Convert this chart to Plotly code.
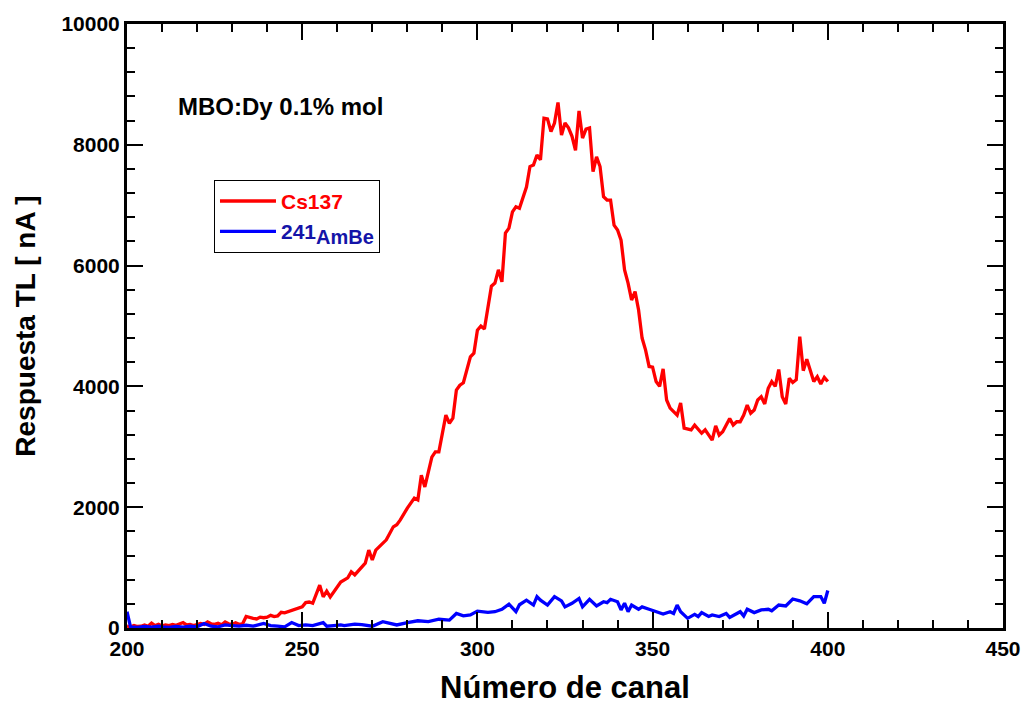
import plotly.graph_objects as go

# Cs137 curve (channel, TL response nA)
cs_ch = [200, 201, 202, 203, 204, 205, 206, 207, 208, 209, 210, 211, 212, 213, 214, 215, 216, 217, 218, 219,
         220, 221, 222, 223, 224, 225, 226, 227, 228, 229, 230, 231, 232, 233, 234, 235, 236, 237, 238, 239,
         240, 241, 242, 243, 244, 245, 246, 247, 248, 249, 250, 251, 252, 253, 255, 256, 257, 258, 261, 263,
         264, 265, 268, 269, 270, 271, 274, 276, 277, 278, 280, 282, 283, 284, 285, 287, 288, 289, 291, 292,
         293, 294, 295, 296, 298, 299, 300, 301, 302, 304, 305, 306, 307, 308, 309, 310, 311, 312, 314, 315,
         316, 317, 318, 319, 320, 321, 322, 323, 324, 325, 326, 327, 328, 329, 330, 331, 332, 333, 334, 335,
         336, 337, 338, 339, 340, 341, 342, 343, 344, 345, 346, 347, 348, 349, 350, 351, 352, 353, 354, 355,
         356, 357, 358, 359, 361, 362, 364, 365, 367, 368, 369, 370, 372, 373, 374, 375, 376, 377, 378, 379,
         380, 381, 382, 383, 384, 385, 386, 387, 388, 389, 390, 391, 392, 393, 394, 395, 396, 397, 398, 399, 400]
cs_val = [30, 20, 40, 25, 30, 50, 30, 80, 40, 60, 35, 50, 40, 60, 45, 70, 90, 50, 60, 40,
          55, 75, 60, 100, 70, 60, 80, 55, 100, 70, 60, 85, 60, 70, 190, 170, 160, 150, 180, 170,
          180, 210, 190, 200, 260, 250, 270, 300, 310, 340, 350, 420, 430, 410, 710, 515, 610, 515, 760, 830,
          930, 880, 1075, 1290, 1125, 1290, 1460, 1675, 1710, 1790, 1985, 2150, 2120, 2530, 2335, 2830, 2915, 2915, 3525, 3390,
          3475, 3940, 4020, 4060, 4490, 4550, 4930, 5000, 4950, 5660, 5710, 5930, 5730, 6540, 6620, 6890, 6975, 6950, 7300, 7640,
          7665, 7830, 7750, 8440, 8430, 8220, 8360, 8700, 8160, 8360, 8280, 8140, 7910, 8560, 8110, 8260, 8280, 7555, 7800, 7640,
          7140, 7085, 7085, 6670, 6590, 6420, 5930, 5710, 5430, 5570, 5265, 4800, 4600, 4330, 4320, 4080, 4000, 4290, 3775, 3640,
          3580, 3525, 3725, 3310, 3280, 3360, 3225, 3280, 3110, 3345, 3195, 3250, 3470, 3360, 3415, 3415, 3525, 3690, 3555, 3610,
          3775, 3830, 3710, 3970, 4080, 4000, 4280, 3830, 3710, 4135, 4065, 4110, 4825, 4260, 4450, 4245, 4080, 4160, 4040, 4150, 4080]

# 241AmBe curve
am_ch = [200, 201, 203, 205, 207, 209, 210, 212, 214, 216, 218, 220, 222, 224, 226, 228, 230, 232, 234, 236,
         239, 241, 243, 245, 247, 249, 251, 253, 256, 257, 259, 261, 262, 265, 267, 269, 270, 273, 274, 277,
         280, 283, 286, 289, 292, 294, 296, 298, 300, 303, 305, 307, 309, 311, 312, 314, 316, 317, 318, 320,
         322, 324, 325, 327, 329, 330, 332, 334, 336, 337, 338, 340, 341, 342, 343, 344, 346, 347, 349, 351,
         353, 355, 356, 357, 358, 360, 362, 363, 364, 366, 367, 369, 371, 372, 374, 375, 376, 377, 379, 381,
         383, 384, 386, 388, 390, 392, 394, 396, 398, 399, 400]
am_val = [270, 20, 10, 25, 15, 30, 20, 10, 25, 15, 30, 20, 75, 30, 20, 50, 40, 30, 45, 30,
          75, 40, 30, 20, 90, 40, 50, 40, 90, 30, 40, 50, 40, 65, 55, 40, 30, 105, 90, 50,
          90, 120, 105, 145, 130, 240, 200, 215, 280, 260, 270, 310, 395, 270, 385, 460, 380, 520, 460, 380,
          520, 450, 350, 410, 490, 350, 475, 365, 435, 420, 475, 435, 300, 410, 270, 380, 310, 350, 310, 270,
          230, 270, 240, 380, 270, 160, 225, 190, 255, 190, 215, 190, 240, 175, 240, 270, 200, 310, 255, 300,
          310, 285, 380, 365, 480, 450, 400, 520, 520, 410, 620]

x_ticks = [200, 250, 300, 350, 400, 450]
y_ticks = [0, 2000, 4000, 6000, 8000, 10000]

FONT = "Liberation Sans, Arial, sans-serif"

fig = go.Figure()
fig.add_trace(go.Scatter(x=cs_ch, y=cs_val, mode="lines",
                         line=dict(color="#ff0000", width=3.3),
                         name='<span style="color:#ff0000">Cs137</span>'))
fig.add_trace(go.Scatter(x=am_ch, y=am_val, mode="lines",
                         line=dict(color="#0000ff", width=3.3),
                         name='<span style="color:#1414a8">241<sub><span style="font-size:20px">AmBe</span></sub></span>'))

axis_common = dict(
    showline=True, linecolor="black", linewidth=3, mirror="ticks",
    ticks="inside", tickcolor="black", tickwidth=1.5, ticklen=16,
    showgrid=False, zeroline=False, automargin=False,
    tickfont=dict(family=FONT, size=21, color="black", weight="bold"),
)

fig.update_xaxes(range=[200, 450], tickvals=x_ticks, ticktext=[str(v) for v in x_ticks],
                 minor=dict(dtick=10, ticks="inside", ticklen=8, tickwidth=1.5, tickcolor="black"),
                 title=dict(text="Número de canal", standoff=18,
                            font=dict(family=FONT, size=31, color="black", weight="bold")),
                 **axis_common)
fig.update_yaxes(range=[0, 10000], tickvals=y_ticks, ticktext=[str(v) for v in y_ticks],
                 minor=dict(dtick=400, ticks="inside", ticklen=8, tickwidth=1.5, tickcolor="black"),
                 title=dict(text="Respuesta TL [ nA ]", standoff=18,
                            font=dict(family=FONT, size=28, color="black", weight="bold")),
                 **axis_common)

fig.add_annotation(x=0.056, y=0.8626, xref="paper", yref="paper", xanchor="left", yanchor="middle",
                   text="MBO:Dy 0.1% mol", showarrow=False,
                   font=dict(family=FONT, size=24, color="black", weight="bold"))

fig.update_layout(
    width=1023, height=706,
    margin=dict(l=127, r=20, t=24, b=78),
    paper_bgcolor="white", plot_bgcolor="white",
    legend=dict(x=0.0993, y=0.742, xanchor="left", yanchor="top",
                bordercolor="black", borderwidth=1, bgcolor="white",
                font=dict(family=FONT, size=21, weight="bold"),
                itemwidth=56, tracegroupgap=0),
    showlegend=True,
)

fig.write_html("out.html")
